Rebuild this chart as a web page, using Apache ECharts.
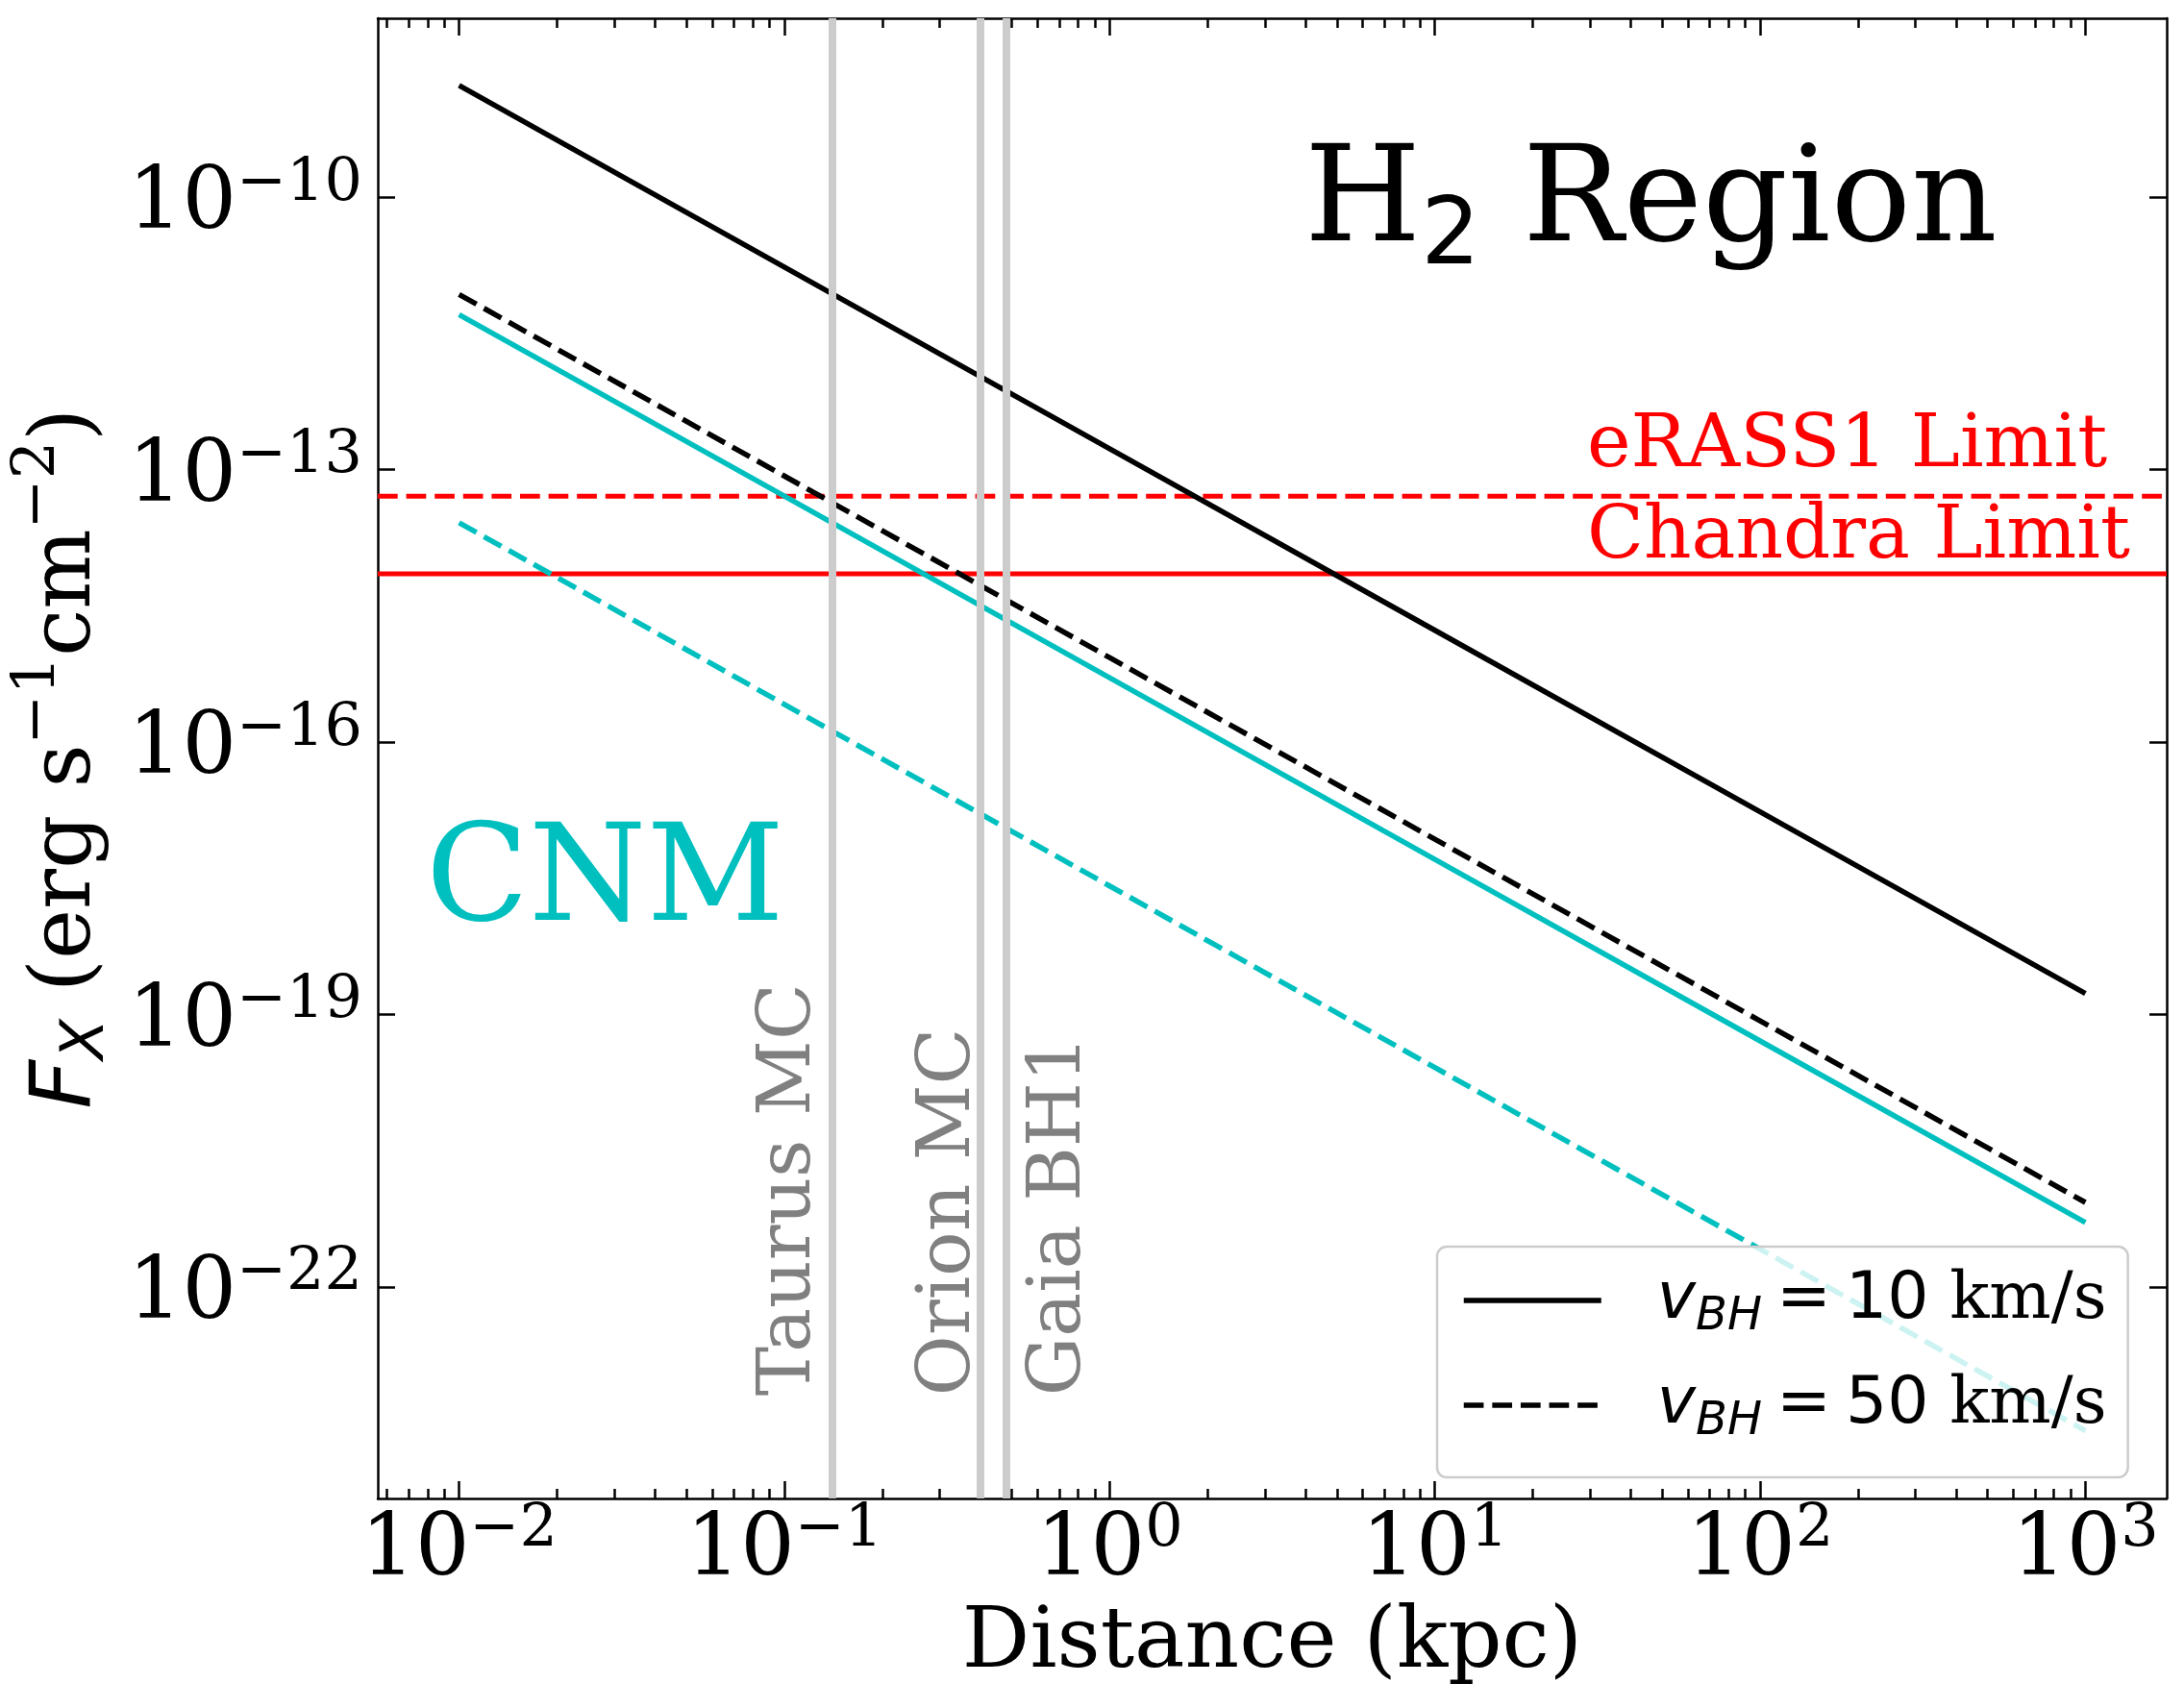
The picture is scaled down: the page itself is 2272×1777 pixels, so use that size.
<!DOCTYPE html>
<html>
<head>
<meta charset="utf-8">
<script src="https://cdn.jsdelivr.net/npm/echarts@6/dist/echarts.min.js"></script>
<style>
html, body { margin: 0; padding: 0; background: #fff; }
#chart { width: 2272px; height: 1777px; }
</style>
</head>
<body>
<div id="chart"></div>
<script>
// distances in kpc
var distances = [0.01, 0.1, 1, 10, 100, 1000];
// X-ray flux (erg s^-1 cm^-2)
var h2Slow  = [1.7e-9, 1.7e-11, 1.7e-13, 1.7e-15, 1.7e-17, 1.7e-19];
var h2Fast  = [8.5e-12, 8.5e-14, 8.5e-16, 8.5e-18, 8.5e-20, 8.5e-22];
var cnmSlow = [5.1e-12, 5.1e-14, 5.1e-16, 5.1e-18, 5.1e-20, 5.1e-22];
var cnmFast = [2.6e-14, 2.6e-16, 2.6e-18, 2.6e-20, 2.6e-22, 2.6e-24];

// survey limits
var limitNames  = ['eRASS1 Limit', 'Chandra Limit'];
var limitValues = [5.1e-14, 7.1e-15];

// known objects (kpc)
var sourceNames = ['Taurus MC', 'Orion MC', 'Gaia BH1'];
var sourceDist  = [0.14, 0.395, 0.477];
var sourceLabelY = 6.3e-24;

// ticks
var xTicks = [0.01, 0.1, 1, 10, 100, 1000];
var xMinorMantissa = [2, 3, 4, 5, 6, 7, 8, 9];
var yTicks = [1e-22, 1e-19, 1e-16, 1e-13, 1e-10];

var legendNames  = ['v10', 'v50'];
var legendSpeeds = ['10', '50'];

var xMin = Math.pow(10, -2.25), xMax = Math.pow(10, 3.25);
var yMin = Math.pow(10, -24.331), yMax = Math.pow(10, -8.029);

var xMinor = [];
[0.001, 0.01, 0.1, 1, 10, 100].forEach(function (d) {
  xMinorMantissa.forEach(function (m) {
    var v = m * d;
    if (v > xMin && v < xMax) xMinor.push(v);
  });
});

function pairs(ys) {
  return distances.map(function (d, i) { return [d, ys[i]]; });
}

var SERIF = "'DejaVu Serif', serif";
var SANS = "'DejaVu Sans', sans-serif";
var CYAN = '#00bfbf';
var DASH = [20.7, 8.9];

function powLabel(v) {
  var e = Math.round(Math.log10(v));
  return '{b|10}{s|' + (e < 0 ? '\u2212' + (-e) : e) + '}';
}

var tickRich = {
  b: { fontFamily: SERIF, fontSize: 89, lineHeight: 89, padding: [9, 0, 0, 0], verticalAlign: 'top', color: '#000' },
  s: { fontFamily: SERIF, fontSize: 62, lineHeight: 62, verticalAlign: 'top', color: '#000' }
};

function logAxis(pos, min, max, major, opts) {
  var a = {
    type: 'log', logBase: 10, position: pos, min: min, max: max,
    gridIndex: 0,
    splitLine: { show: false },
    axisLine: { show: opts.line, lineStyle: { color: '#000', width: 2.5 } },
    axisTick: { show: true, inside: true, length: opts.len, customValues: major,
      lineStyle: { color: '#000', width: 2.5 } },
    axisLabel: { show: false },
    minorTick: { show: false }
  };
  if (opts.labels) {
    a.axisLabel = { show: true, customValues: major, formatter: powLabel,
      margin: opts.margin, rich: tickRich };
  }
  return a;
}

var chart = echarts.init(document.getElementById('chart'));

var xAxes = [
  logAxis('bottom', xMin, xMax, xTicks, { line: true, len: 18, labels: true, margin: 2 }),
  logAxis('bottom', xMin, xMax, xMinor, { line: false, len: 10 }),
  logAxis('top', xMin, xMax, xTicks, { line: true, len: 18 }),
  logAxis('top', xMin, xMax, xMinor, { line: false, len: 10 })
];
xAxes[0].name = 'Distance (kpc)';
xAxes[0].nameLocation = 'middle';
xAxes[0].nameGap = 108;
xAxes[0].nameTextStyle = { fontFamily: SERIF, fontSize: 88, lineHeight: 88, color: '#000' };

var yAxes = [
  logAxis('left', yMin, yMax, yTicks, { line: true, len: 18, labels: true, margin: 16 }),
  logAxis('right', yMin, yMax, yTicks, { line: true, len: 18 })
];
yAxes[0].name = '{it|F}{sub|X}{n| (erg s}{sup|\u22121}{n|cm}{sup|\u22122}{n|)}';
yAxes[0].nameLocation = 'middle';
yAxes[0].nameRotate = 90;
yAxes[0].nameGap = 268;
yAxes[0].nameTextStyle = {
  color: '#000',
  rich: {
    it:  { fontFamily: SANS, fontStyle: 'italic', fontSize: 88, lineHeight: 88, padding: [17, 0, 0, 0], verticalAlign: 'top' },
    sub: { fontFamily: SANS, fontStyle: 'italic', fontSize: 62, lineHeight: 62, padding: [51, 0, 0, 0], verticalAlign: 'top' },
    n:   { fontFamily: SERIF, fontSize: 88, lineHeight: 88, padding: [17, 0, 0, 0], verticalAlign: 'top' },
    sup: { fontFamily: SERIF, fontSize: 62, lineHeight: 62, verticalAlign: 'top' }
  }
};

function dataLine(name, ys, color, dashed) {
  return {
    name: name, type: 'line', data: pairs(ys), symbol: 'none', z: 3,
    xAxisIndex: 0, yAxisIndex: 0,
    lineStyle: { color: color, width: 5.5, type: dashed ? DASH : 'solid' },
    itemStyle: { color: color }
  };
}

// horizontal survey limits, spanning the whole x range
function limitLine(i, dashed) {
  return {
    name: limitNames[i], type: 'line', symbol: 'none', z: 2, silent: true,
    data: [[xMin, limitValues[i]], [xMax, limitValues[i]]],
    lineStyle: { color: '#ff0000', width: 5, type: dashed ? DASH : 'solid' }
  };
}

var series = [
  {
    name: 'sources', type: 'line', data: [], z: 1, silent: true,
    markLine: {
      silent: true, symbol: 'none', animation: false, label: { show: false },
      lineStyle: { color: '#cccccc', width: 8, type: 'solid' },
      data: sourceDist.map(function (d) { return { xAxis: d }; })
    }
  },
  limitLine(0, true),
  limitLine(1, false),
  dataLine('h2Slow', h2Slow, '#000', false),
  dataLine('h2Fast', h2Fast, '#000', true),
  dataLine('cnmSlow', cnmSlow, CYAN, false),
  dataLine('cnmFast', cnmFast, CYAN, true),
  // legend keys
  { name: legendNames[0], type: 'line', data: [], symbol: 'none', lineStyle: { color: '#000', width: 5.5, type: 'solid' }, itemStyle: { color: '#000' } },
  { name: legendNames[1], type: 'line', data: [], symbol: 'none', lineStyle: { color: '#000', width: 5.5, type: DASH }, itemStyle: { color: '#000' } }
];

var option = {
  animation: false,
  backgroundColor: '#fff',
  grid: { left: 393, top: 19, right: 18, bottom: 218, containLabel: false },
  xAxis: xAxes,
  yAxis: yAxes,
  legend: {
    data: legendNames,
    orient: 'vertical',
    left: 1495, top: 1297,
    padding: [22, 22, 33, 25],
    itemWidth: 143, itemHeight: 70, itemGap: 33,
    backgroundColor: 'rgba(255,255,255,0.8)',
    borderColor: '#cccccc', borderWidth: 2.5, borderRadius: 10,
    selectedMode: false,
    itemStyle: { color: 'rgba(0,0,0,0)', borderWidth: 0, opacity: 0 },
    lineStyle: { width: 5.5, color: '#000', type: 'inherit' },
    formatter: function (name) {
      var sp = legendSpeeds[legendNames.indexOf(name)];
      return '{v|v}{sub|BH}{eq|=}{d|' + sp + '}{n| km/s}';
    },
    textStyle: {
      padding: [0, 0, 0, 53],
      rich: {
        v:   { fontFamily: SANS, fontStyle: 'italic', fontSize: 68, lineHeight: 68, verticalAlign: 'top', color: '#000' },
        sub: { fontFamily: SANS, fontStyle: 'italic', fontSize: 48, lineHeight: 48, padding: [28, 0, 0, 0], verticalAlign: 'top', color: '#000' },
        eq:  { fontFamily: SANS, fontSize: 68, lineHeight: 68, padding: [0, 15, 0, 15], verticalAlign: 'top', color: '#000' },
        d:   { fontFamily: SANS, fontSize: 68, lineHeight: 68, verticalAlign: 'top', color: '#000' },
        n:   { fontFamily: SERIF, fontSize: 68, lineHeight: 68, verticalAlign: 'top', color: '#000' }
      }
    }
  },
  series: series
};

chart.setOption(option);

// text annotations
var graphics = [
  {
    type: 'text', x: 1357, y: 144, z: 10, silent: true,
    style: {
      text: '{h|H}{s|2}{h| Region}', align: 'left', verticalAlign: 'top',
      rich: {
        h: { fontFamily: SERIF, fontSize: 139, lineHeight: 139, verticalAlign: 'top', fill: '#000' },
        s: { fontFamily: SANS, fontSize: 97, lineHeight: 97, padding: [56, 0, 0, 0], verticalAlign: 'top', fill: '#000' }
      }
    }
  },
  {
    type: 'text', x: 443, y: 851, z: 10, silent: true,
    style: { text: 'CNM', fontFamily: SERIF, fontSize: 140, lineHeight: 140, fill: CYAN, align: 'left', verticalAlign: 'top' }
  }
];
var limitTextY = [426, 521];
limitNames.forEach(function (t, i) {
  graphics.push({
    type: 'text', x: 1651, y: limitTextY[i], z: 10, silent: true,
    style: { text: t, fontFamily: SERIF, fontSize: 77, lineHeight: 77, fill: '#ff0000', align: 'left', verticalAlign: 'top' }
  });
});
// rotated object labels; Gaia BH1 sits on the right of its line
var sourceSide = ['left', 'left', 'right'];
var sourceNudge = [-5, 9, 19];
sourceNames.forEach(function (t, i) {
  var p = chart.convertToPixel({ xAxisIndex: 0, yAxisIndex: 0 }, [sourceDist[i], sourceLabelY]);
  graphics.push({
    type: 'text', x: p[0] + sourceNudge[i], y: p[1], rotation: Math.PI / 2, z: 10, silent: true,
    style: {
      text: t, fontFamily: SERIF, fontSize: 77, lineHeight: 77, fill: '#808080',
      align: 'left', verticalAlign: sourceSide[i] === 'left' ? 'bottom' : 'top'
    }
  });
});
chart.setOption({ graphic: graphics });
</script>
</body>
</html>
